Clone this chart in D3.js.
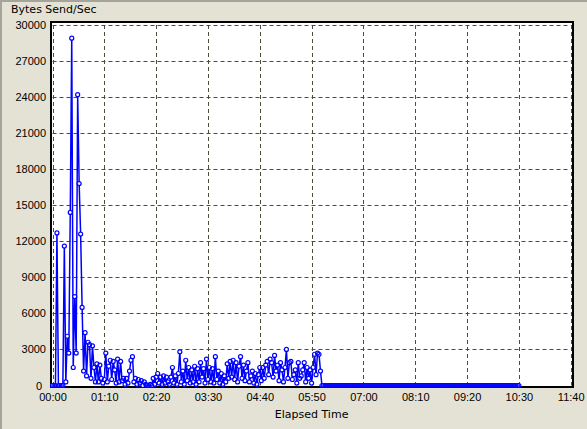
<!DOCTYPE html>
<html lang="en">
<head>
  <meta charset="UTF-8">
  <title>Bytes Send/Sec</title>
  <style>
    body { margin: 0; background: #e4e2d5; }
    svg { display: block; }
  </style>
</head>
<body>
  <script src="https://d3js.org/d3.v7.min.js"></script>
  <script>
    // sampled every 2 seconds, 00:00 -> 10:30
    const sampleInterval = 2;
    const bytesPerSec = [
      0, 0, 0, 12700, 0, 0, 0, 0, 11600, 300,
      4100, 2700, 14400, 28900, 1500, 7400, 2700, 24200, 16800, 12600,
      6500, 1200, 4400, 800, 3600, 3400, 600, 3300, 1500, 300,
      1800, 300, 1700, 600, 200, 500, 2700, 300, 1600, 2100,
      500, 2000, 1300, 200, 2200, 300, 2000, 400, 600, 100,
      600, 200, 1200, 2100, 2400, 300, 600, 100, 500, 200,
      400, 0, 300, 100, 0, 0, 100, 0, 600, 100,
      700, 1000, 200, 700, 100, 800, 200, 700, 300, 100,
      700, 1500, 200, 800, 100, 1000, 2800, 300, 1200, 100,
      2100, 400, 1500, 200, 1300, 300, 1600, 100, 1400, 300,
      1900, 700, 1400, 200, 2200, 500, 1500, 300, 1400, 200,
      2400, 500, 1200, 200, 1000, 100, 800, 300, 1800, 600,
      2000, 700, 2100, 500, 1900, 300, 1600, 2400, 600, 1700,
      400, 1200, 1900, 300, 800, 1200, 200, 1000, 100, 900,
      1500, 400, 1500, 600, 1700, 2000, 900, 2200, 1900, 700,
      2500, 1200, 1700, 400, 1900, 1300, 300, 1500, 3000, 600,
      1900, 2000, 500, 900, 1300, 200, 1900, 600, 800, 1300,
      1900, 300, 1500, 600, 1300, 200, 1500, 2600, 900, 2700,
      2600, 1200,
      0, 0, 0, 0, 0, 0, 0, 0, 0, 0, 0, 0, 0, 0, 0, 0, 0, 0, 0, 0,
      0, 0, 0, 0, 0, 0, 0, 0, 0, 0, 0, 0, 0, 0, 0, 0, 0, 0, 0, 0,
      0, 0, 0, 0, 0, 0, 0, 0, 0, 0, 0, 0, 0, 0, 0, 0, 0, 0, 0, 0,
      0, 0, 0, 0, 0, 0, 0, 0, 0, 0, 0, 0, 0, 0, 0, 0, 0, 0, 0, 0,
      0, 0, 0, 0, 0, 0, 0, 0, 0, 0, 0, 0, 0, 0, 0, 0, 0, 0, 0, 0,
      0, 0, 0, 0, 0, 0, 0, 0, 0, 0, 0, 0, 0, 0, 0, 0, 0, 0, 0, 0,
      0, 0, 0, 0, 0, 0, 0, 0, 0, 0, 0, 0, 0, 0
    ];
    const xTickSeconds = [0, 70, 140, 210, 280, 350, 420, 490, 560, 630, 700];
    const xTickLabels = ['00:00', '01:10', '02:20', '03:30', '04:40', '05:50', '07:00', '08:10', '09:20', '10:30', '11:40'];
    const yTicks = [0, 3000, 6000, 9000, 12000, 15000, 18000, 21000, 24000, 27000, 30000];

    const width = 587;
    const height = 429;
    const numFont = 'Liberation Sans, Arial, sans-serif';
    const textFont = 'DejaVu Sans, Verdana, sans-serif';

    const points = bytesPerSec.map((v, i) => ({ t: i * sampleInterval, v: v }));

    const x = d3.scaleLinear().domain([0, 700]).range([52.5, 570.7]);
    const y = d3.scaleLinear().domain([0, 30000]).range([385.5, 25]);

    const svg = d3.select('body')
      .append('svg')
      .attr('width', width)
      .attr('height', height)

    // window edges
    svg.append('rect').attr('x', 0).attr('y', 0).attr('width', width).attr('height', 2).attr('fill', '#a5a49c')
    svg.append('rect').attr('x', 0).attr('y', 0).attr('width', 2).attr('height', height).attr('fill', '#a5a49c')

    // plot background
    svg.append('rect')
      .attr('x', 51).attr('y', 22)
      .attr('width', 522).attr('height', 365)
      .attr('fill', '#ffffff')

    // dashed grid
    svg.append('g')
      .selectAll('line')
      .data(xTickSeconds)
      .join('line')
      .attr('x1', d => Math.round(x(d)) + 0.5)
      .attr('x2', d => Math.round(x(d)) + 0.5)
      .attr('y1', y(30000))
      .attr('y2', y(0))
      .attr('stroke', '#4d4d36')
      .attr('stroke-dasharray', '4,3')
    svg.append('g')
      .selectAll('line')
      .data(yTicks)
      .join('line')
      .attr('x1', x(0))
      .attr('x2', x(700))
      .attr('y1', d => Math.round(y(d)) + 0.5)
      .attr('y2', d => Math.round(y(d)) + 0.5)
      .attr('stroke', '#4d4d36')
      .attr('stroke-dasharray', '4,3')

    // frame
    svg.append('rect')
      .attr('x', 51).attr('y', 22)
      .attr('width', 522).attr('height', 365)
      .attr('fill', 'none')
      .attr('stroke', '#000')
      .attr('stroke-width', 2)
    svg.append('line')
      .attr('x1', 50.5).attr('x2', 50.5)
      .attr('y1', 21).attr('y2', 388)
      .attr('stroke', '#000')

    // axis labels
    svg.append('g')
      .selectAll('text')
      .data(yTicks)
      .join('text')
      .attr('x', d => d === 0 ? 42 : 46)
      .attr('y', d => y(d) + 4)
      .attr('text-anchor', 'end')
      .attr('font-family', numFont)
      .attr('font-size', 11)
      .text(d => d)
    svg.append('g')
      .selectAll('text')
      .data(xTickSeconds)
      .join('text')
      .attr('x', d => x(d) + 0.5)
      .attr('y', 400.5)
      .attr('text-anchor', 'middle')
      .attr('font-family', numFont)
      .attr('font-size', 11)
      .text((d, i) => xTickLabels[i])

    svg.append('text')
      .attr('x', 11).attr('y', 13)
      .attr('font-family', textFont)
      .attr('font-size', 11)
      .text('Bytes Send/Sec')
    svg.append('text')
      .attr('x', (x(0) + x(700)) / 2)
      .attr('y', 418)
      .attr('text-anchor', 'middle')
      .attr('font-family', textFont)
      .attr('font-size', 11)
      .text('Elapsed Time')

    // series: line, then marker fills, then marker outlines on top
    const line = d3.line()
      .x(d => x(d.t))
      .y(d => y(d.v))
    svg.append('path')
      .datum(points)
      .attr('d', line)
      .attr('fill', 'none')
      .attr('stroke', '#0000ff')
      .attr('stroke-width', 1.5)
    svg.append('g')
      .selectAll('circle')
      .data(points)
      .join('circle')
      .attr('cx', d => x(d.t))
      .attr('cy', d => y(d.v))
      .attr('r', 2)
      .attr('fill', '#ffffff')
    svg.append('g')
      .selectAll('circle')
      .data(points)
      .join('circle')
      .attr('cx', d => x(d.t))
      .attr('cy', d => y(d.v))
      .attr('r', 2)
      .attr('fill', 'none')
      .attr('stroke', '#0000ff')
      .attr('stroke-width', 1.2)
  </script>
</body>
</html>
